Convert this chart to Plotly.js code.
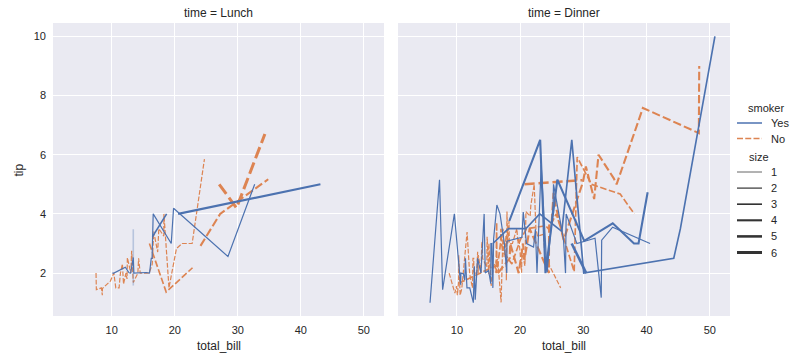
<!DOCTYPE html>
<html>
<head>
<meta charset="utf-8">
<script src="https://cdn.plot.ly/plotly-3.0.1.min.js"></script>
<style>html,body{margin:0;padding:0;background:#fff;}#chart{width:795px;height:356px;}</style>
</head>
<body>
<div id="chart"></div>
<script>
// ---- data (tips dataset columns) ----
const total_bill = [16.99,10.34,21.01,23.68,24.59,25.29,8.77,26.88,15.04,14.78,
10.27,35.26,15.42,18.43,14.83,21.58,10.33,16.29,16.97,20.65,
17.92,20.29,15.77,39.42,19.82,17.81,13.37,12.69,21.7,19.65,
9.55,18.35,15.06,20.69,17.78,24.06,16.31,16.93,18.69,31.27,
16.04,17.46,13.94,9.68,30.4,18.29,22.23,32.4,28.55,18.04,
12.54,10.29,34.81,9.94,25.56,19.49,38.01,26.41,11.24,48.27,
20.29,13.81,11.02,18.29,17.59,20.08,16.45,3.07,20.23,15.01,
12.02,17.07,26.86,25.28,14.73,10.51,17.92,27.2,22.76,17.29,
19.44,16.66,10.07,32.68,15.98,34.83,13.03,18.28,24.71,21.16,
28.97,22.49,5.75,16.32,22.75,40.17,27.28,12.03,21.01,12.46,
11.35,15.38,44.3,22.42,20.92,15.36,20.49,25.21,18.24,14.31,
14.0,7.25,38.07,23.95,25.71,17.31,29.93,10.65,12.43,24.08,
11.69,13.42,14.26,15.95,12.48,29.8,8.52,14.52,11.38,22.82,
19.08,20.27,11.17,12.26,18.26,8.51,10.33,14.15,16.0,13.16,
17.47,34.3,41.19,27.05,16.43,8.35,18.64,11.87,9.78,7.51,
14.07,13.13,17.26,24.55,19.77,29.85,48.17,25.0,13.39,16.49,
21.5,12.66,16.21,13.81,17.51,24.52,20.76,31.71,10.59,10.63,
50.81,15.81,7.25,31.85,16.82,32.9,17.89,14.48,9.6,34.63,
34.65,23.33,45.35,23.17,40.55,20.69,20.9,30.46,18.15,23.1,
15.69,19.81,28.44,15.48,16.58,7.56,10.34,43.11,13.0,13.51,
18.71,12.74,13.0,16.4,20.53,16.47,26.59,38.73,24.27,12.76,
30.06,25.89,48.33,13.27,28.17,12.9,28.15,11.59,7.74,30.14,
12.16,13.42,8.58,15.98,13.42,16.27,10.09,20.45,13.28,22.12,
24.01,15.69,11.61,10.77,15.53,10.07,12.6,32.83,35.83,29.03,
27.18,22.67,17.82,18.78];

const tip = [1.01,1.66,3.5,3.31,3.61,4.71,2.0,3.12,1.96,3.23,
1.71,5.0,1.57,3.0,3.02,3.92,1.67,3.71,3.5,3.35,
4.08,2.75,2.23,7.58,3.18,2.34,2.0,2.0,4.3,3.0,
1.45,2.5,3.0,2.45,3.27,3.6,2.0,3.07,2.31,5.0,
2.24,2.54,3.06,1.32,5.6,3.0,5.0,6.0,2.05,3.0,
2.5,2.6,5.2,1.56,4.34,3.51,3.0,1.5,1.76,6.73,
3.21,2.0,1.98,3.76,2.64,3.15,2.47,1.0,2.01,2.09,
1.97,3.0,3.14,5.0,2.2,1.25,3.08,4.0,3.0,2.71,
3.0,3.4,1.83,5.0,2.03,5.17,2.0,4.0,5.85,3.0,
3.0,3.5,1.0,4.3,3.25,4.73,4.0,1.5,3.0,1.5,
2.5,3.0,2.5,3.48,4.08,1.64,4.06,4.29,3.76,4.0,
3.0,1.0,4.0,2.55,4.0,3.5,5.07,1.5,1.8,2.92,
2.31,1.68,2.5,2.0,2.52,4.2,1.48,2.0,2.0,2.18,
1.5,2.83,1.5,2.0,3.25,1.25,2.0,2.0,2.0,2.75,
3.5,6.7,5.0,5.0,2.3,1.5,1.36,1.63,1.73,2.0,
2.5,2.0,2.74,2.0,2.0,5.14,5.0,3.75,2.61,2.0,
3.5,2.5,2.0,2.0,3.0,3.48,2.24,4.5,1.61,2.0,
10.0,3.16,5.15,3.18,4.0,3.11,2.0,2.0,4.0,3.55,
3.68,5.65,3.5,6.5,3.0,5.0,3.5,2.0,3.5,4.0,
1.5,4.19,2.56,2.02,4.0,1.44,2.0,5.0,2.0,2.0,
4.0,2.01,2.0,2.5,4.0,3.23,3.41,3.0,2.03,2.23,
2.0,5.16,9.0,2.5,6.5,1.1,3.0,1.5,1.44,3.09,
2.2,3.48,1.92,3.0,1.58,2.5,2.0,3.0,2.72,2.88,
2.0,3.0,3.39,1.47,3.0,1.25,1.0,1.17,4.67,5.92,
2.0,2.0,1.75,3.0];

// smoker: Y = Yes, N = No
const smoker = ["N","N","N","N","N","N","N","N","N","N",
"N","N","N","N","N","N","N","N","N","N",
"N","N","N","N","N","N","N","N","N","N",
"N","N","N","N","N","N","N","N","N","N",
"N","N","N","N","N","N","N","N","N","N",
"N","N","N","N","N","N","Y","N","Y","N",
"Y","Y","Y","Y","N","N","N","Y","N","Y",
"N","N","Y","Y","N","N","Y","N","N","N",
"Y","N","N","Y","N","N","N","N","N","N",
"Y","N","Y","Y","N","Y","Y","Y","Y","N",
"Y","Y","Y","Y","N","Y","Y","Y","N","Y",
"N","N","N","N","N","N","N","N","N","N",
"N","N","N","N","N","N","N","N","N","N",
"N","N","N","N","N","N","N","N","Y","N",
"N","N","N","N","N","N","N","N","N","N",
"N","N","N","N","N","N","N","N","N","N",
"N","N","N","N","Y","N","N","N","Y","Y",
"Y","Y","Y","Y","Y","Y","Y","Y","Y","Y",
"Y","Y","Y","Y","Y","N","Y","Y","Y","Y",
"Y","Y","Y","Y","Y","N","Y","Y","Y","Y",
"Y","Y","Y","Y","Y","Y","Y","Y","Y","Y",
"Y","Y","N","Y","Y","Y","Y","Y","Y","Y",
"Y","Y","Y","N","Y","Y","Y","N","N","Y",
"Y","Y","N","N","Y","N","Y","Y","N","N",
"Y","Y","N","N"];

// time: L = Lunch, D = Dinner
const time = ["D","D","D","D","D","D","D","D","D","D",
"D","D","D","D","D","D","D","D","D","D",
"D","D","D","D","D","D","D","D","D","D",
"D","D","D","D","D","D","D","D","D","D",
"D","D","D","D","D","D","D","D","D","D",
"D","D","D","D","D","D","D","D","D","D",
"D","D","D","D","D","D","D","D","D","D",
"D","D","D","D","D","D","D","L","L","L",
"L","L","L","L","L","L","L","L","L","L",
"D","D","D","D","D","D","D","D","D","D",
"D","D","D","D","D","D","D","D","D","D",
"D","D","D","D","D","D","D","L","L","L",
"L","L","L","L","L","L","L","L","L","L",
"L","L","L","L","L","L","L","L","L","L",
"L","L","L","L","L","L","L","L","L","L",
"D","D","D","D","D","D","D","D","D","D",
"D","D","D","D","D","D","D","D","D","D",
"D","D","D","D","D","D","D","D","D","D",
"D","D","D","D","D","D","D","D","D","D",
"D","L","L","L","L","L","L","L","L","L",
"L","L","L","L","L","L","D","D","D","D",
"D","D","D","D","D","D","D","D","D","D",
"L","L","L","L","L","L","L","D","D","D",
"D","D","D","D","D","D","D","D","D","D",
"D","D","D","D"];

const size = [2,3,3,2,4,4,2,4,2,2,
2,4,2,4,2,2,3,3,3,3,
2,2,2,4,2,4,2,2,2,2,
2,4,2,4,2,3,3,3,3,3,
3,2,2,2,4,2,2,4,3,2,
2,2,4,2,4,2,4,2,2,4,
2,2,2,4,3,3,2,1,2,2,
2,3,2,2,2,2,2,4,2,2,
2,2,1,2,2,4,2,2,2,2,
2,2,2,2,2,4,2,2,2,2,
2,2,3,2,2,2,2,2,2,2,
2,1,3,2,3,2,4,2,2,4,
2,2,2,2,2,6,2,2,2,3,
2,2,2,2,2,2,2,2,2,2,
2,6,5,6,2,2,3,2,2,2,
2,2,3,4,4,5,6,4,2,4,
4,2,3,2,2,3,2,4,2,2,
3,2,2,2,2,2,2,2,2,2,
4,2,3,4,2,5,3,5,3,3,
2,2,2,2,2,2,2,4,2,2,
3,2,2,2,4,3,3,4,2,2,
3,4,4,2,3,2,5,2,2,4,
2,2,1,3,2,2,2,4,2,2,
4,3,2,2,2,2,2,2,3,3,
2,2,2,2];

const timeLevels = [["L","Lunch"],["D","Dinner"]];
const smokerLevels = [["Y","Yes"],["N","No"]];
const sizeLevels = [1,2,3,4,5,6];
const xTicks = [10,20,30,40,50];
const yTicks = [2,4,6,8,10];

// ---- styles ----
const COLORS = {Y:"#4C72B0", N:"#DD8452"};
const BAND = {Y:"rgba(76,114,176,0.32)", N:"rgba(221,132,82,0.32)"};
const TXT = "#262626";
const FONT = "Liberation Sans, Arial, sans-serif";
const minS = Math.min(...size), maxS = Math.max(...size);
function widthFor(s){ return 0.75 + (s - minS)/(maxS - minS) * (3.0 - 0.75); }
function dashFor(code, w){ return code === "N" ? (4*w).toFixed(2)+"px,"+(1.5*w).toFixed(2)+"px" : "solid"; }

// ---- build traces ----
const traces = [];
timeLevels.forEach(([tc], ti) => {
  const xa = ti === 0 ? "x" : "x2", ya = ti === 0 ? "y" : "y2";
  // seaborn draws in reverse level order
  [...smokerLevels].reverse().forEach(([sc]) => {
    [...sizeLevels].reverse().forEach(sz => {
      const groups = new Map();
      for (let i = 0; i < total_bill.length; i++) {
        if (time[i] === tc && smoker[i] === sc && size[i] === sz) {
          if (!groups.has(total_bill[i])) groups.set(total_bill[i], []);
          groups.get(total_bill[i]).push(tip[i]);
        }
      }
      const xs = [...groups.keys()].sort((a,b)=>a-b);
      if (xs.length < 2) return;
      const ys = xs.map(x => { const v = groups.get(x); return v.reduce((a,b)=>a+b,0)/v.length; });
      const w = widthFor(sz);
      // confidence band at repeated x values
      xs.forEach(x => {
        const v = groups.get(x);
        if (v.length > 1 && Math.min(...v) !== Math.max(...v)) {
          traces.push({type:"scatter", mode:"lines", x:[x,x], y:[Math.min(...v), Math.max(...v)],
            xaxis:xa, yaxis:ya, line:{color:BAND[sc], width:1.6}, showlegend:false, hoverinfo:"skip"});
        }
      });
      traces.push({type:"scatter", mode:"lines", x:xs, y:ys, xaxis:xa, yaxis:ya,
        line:{color:COLORS[sc], width:w, dash:dashFor(sc, w)}, showlegend:false});
    });
  });
});

// ---- layout geometry (pixels) ----
const W = 795, H = 356, L = 53, R = 65, T = 23, B = 40;
const PW = W - L - R, PH = H - T - B;
const px = p => (p - L) / PW;
const py = p => (H - B - p) / PH;

const xRange = (() => { const mn = Math.min(...total_bill), mx = Math.max(...total_bill), pd = (mx-mn)*0.05; return [mn-pd, mx+pd]; })();
const yRange = (() => { const mn = Math.min(...tip), mx = Math.max(...tip), pd = (mx-mn)*0.05; return [mn-pd, mx+pd]; })();

const axisBase = {
  showgrid:true, gridcolor:"#FFFFFF", gridwidth:1, zeroline:false, showline:false,
  ticks:"", tickfont:{family:FONT, size:11, color:TXT}, fixedrange:true
};

const annotations = [];
const shapes = [];
const panelCenters = [(53+384)/2, (398+730)/2];
timeLevels.forEach(([, name], i) => {
  annotations.push({xref:"paper", yref:"paper", x:px(panelCenters[i]), y:py(13), text:"time = " + name,
    showarrow:false, xanchor:"center", yanchor:"middle", font:{family:FONT, size:12, color:TXT}});
  annotations.push({xref:"paper", yref:"paper", x:px(panelCenters[i]), y:py(346.5), text:"total_bill",
    showarrow:false, xanchor:"center", yanchor:"middle", font:{family:FONT, size:12, color:TXT}});
});
annotations.push({xref:"paper", yref:"paper", x:px(18.5), y:py(170), text:"tip", textangle:-90,
  showarrow:false, xanchor:"center", yanchor:"middle", font:{family:FONT, size:12, color:TXT}});

// ---- legend (drawn manually) ----
const lx0 = 737, lx1 = 762, ltx = 768.5;
annotations.push({xref:"paper", yref:"paper", x:px(766), y:py(108), text:"smoker", showarrow:false,
  xanchor:"center", yanchor:"middle", font:{family:FONT, size:11, color:TXT}});
const smokerY = [123, 138.5];
smokerLevels.forEach(([sc, name], i) => {
  shapes.push({type:"line", xref:"paper", yref:"paper", x0:px(lx0), x1:px(lx1), y0:py(smokerY[i]), y1:py(smokerY[i]),
    line:{color:COLORS[sc], width:1.5, dash:dashFor(sc, 1.5)}});
  annotations.push({xref:"paper", yref:"paper", x:px(ltx), y:py(smokerY[i]), text:name, showarrow:false,
    xanchor:"left", yanchor:"middle", font:{family:FONT, size:11, color:TXT}});
});
annotations.push({xref:"paper", yref:"paper", x:px(759), y:py(156.5), text:"size", showarrow:false,
  xanchor:"center", yanchor:"middle", font:{family:FONT, size:11, color:TXT}});
sizeLevels.forEach((s, i) => {
  const yy = 172 + i*16.1;
  shapes.push({type:"line", xref:"paper", yref:"paper", x0:px(lx0), x1:px(lx1), y0:py(yy), y1:py(yy),
    line:{color:"#333333", width:widthFor(s)}});
  annotations.push({xref:"paper", yref:"paper", x:px(ltx), y:py(yy), text:String(s), showarrow:false,
    xanchor:"left", yanchor:"middle", font:{family:FONT, size:11, color:TXT}});
});

const layout = {
  width:W, height:H, margin:{l:L, r:R, t:T, b:B, pad:0},
  paper_bgcolor:"#FFFFFF", plot_bgcolor:"#EAEAF2",
  showlegend:false,
  font:{family:FONT, size:11, color:TXT},
  xaxis:Object.assign({}, axisBase, {domain:[0, px(384)], range:xRange, tickvals:xTicks, anchor:"y", ticklabelstandoff:6}),
  xaxis2:Object.assign({}, axisBase, {domain:[px(398), 1], range:xRange, tickvals:xTicks, anchor:"y2", ticklabelstandoff:6}),
  yaxis:Object.assign({}, axisBase, {domain:[0,1], range:yRange, tickvals:yTicks, anchor:"x", ticklabelstandoff:6}),
  yaxis2:Object.assign({}, axisBase, {domain:[0,1], range:yRange, tickvals:yTicks, anchor:"x2", showticklabels:false}),
  annotations:annotations, shapes:shapes
};

Plotly.newPlot("chart", traces, layout, {displayModeBar:false, staticPlot:true});
</script>
</body>
</html>
